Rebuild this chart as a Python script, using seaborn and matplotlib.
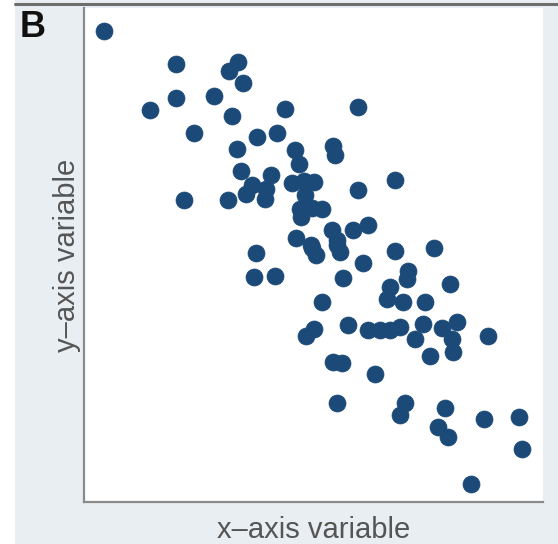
import matplotlib
matplotlib.use("Agg")
import matplotlib.pyplot as plt
import seaborn as sns
import pandas as pd
from matplotlib.lines import Line2D
from matplotlib.patches import Rectangle

# Values (arbitrary units, 0-100 on both axes)
x_values = [4.4, 20.0, 33.5, 31.6, 34.6, 20.0, 28.3, 14.4, 32.2, 43.8,
            59.7, 23.9, 37.7, 42.0, 33.3, 46.0, 46.8, 54.2, 54.7, 34.2,
            40.7, 39.7, 39.4, 36.6, 35.3, 21.8, 31.4, 45.3, 47.9, 50.1,
            48.1, 47.1, 49.7, 51.9, 47.3, 67.8, 59.7, 61.9, 58.6, 54.0,
            55.1, 46.2, 49.7, 55.8, 37.5, 37.0, 41.6, 49.5, 50.5, 55.1,
            56.4, 60.8, 67.8, 76.3, 70.6, 70.4, 66.7, 66.0, 69.5, 74.3,
            79.7, 51.9, 57.5, 61.9, 64.5, 66.7, 68.8, 73.9, 78.0, 81.3,
            72.1, 80.2, 80.4, 75.4, 88.0, 50.1, 48.4, 54.2, 56.2, 63.4,
            55.1, 69.9, 68.8, 78.6, 77.1, 79.3, 87.1, 94.8, 95.4, 84.3]
y_values = [95.3, 88.6, 89.0, 87.2, 84.8, 81.7, 82.2, 79.3, 78.1, 79.5,
            79.9, 74.6, 73.8, 74.6, 71.4, 71.2, 68.4, 72.0, 70.2, 67.1,
            66.1, 63.3, 61.3, 64.1, 62.3, 61.1, 61.1, 64.5, 64.9, 64.7,
            62.1, 59.4, 59.6, 59.4, 57.6, 65.1, 63.1, 56.0, 55.0, 55.0,
            53.0, 53.4, 51.4, 50.6, 50.4, 45.6, 45.8, 52.0, 50.0, 52.0,
            45.4, 48.4, 50.8, 51.4, 46.7, 45.2, 43.6, 41.0, 40.4, 40.4,
            44.2, 40.4, 35.9, 34.9, 34.9, 34.9, 35.5, 36.1, 35.3, 36.5,
            32.9, 32.9, 30.4, 29.6, 33.7, 35.1, 33.7, 28.4, 28.2, 26.0,
            20.1, 20.1, 17.6, 19.1, 15.2, 13.2, 16.8, 17.2, 10.8, 3.7]

df = pd.DataFrame({"x": x_values, "y": y_values})

sns.set_style("white")
plt.rcParams["font.family"] = ["Liberation Sans", "DejaVu Sans"]

fig = plt.figure(figsize=(5.58, 5.44), dpi=100)
fig.patch.set_facecolor("#e8eef2")
# white strip on the left edge and dark rule along the top
fig.add_artist(Rectangle((0, 0), 15 / 558, 1, transform=fig.transFigure,
                         facecolor="white", edgecolor="none", zorder=0))
fig.add_artist(Line2D([15 / 558, 1], [1 - 4 / 544, 1 - 4 / 544],
                      transform=fig.transFigure, color="#6e6e6e", lw=2.2))

ax = fig.add_axes([84 / 558, 1 - 502 / 544, (543 - 84) / 558, (502 - 8) / 544])
ax.set_facecolor("white")
sns.scatterplot(data=df, x="x", y="y", ax=ax, s=150, color="#1c4a78",
                edgecolor="#1c4a78", linewidth=0.5, alpha=1)
ax.set_xlim(0, 100)
ax.set_ylim(0, 100)
ax.set_xticks([])
ax.set_yticks([])
for side in ["top", "right"]:
    ax.spines[side].set_visible(False)
for side in ["left", "bottom"]:
    ax.spines[side].set_color("#8a8a8a")
    ax.spines[side].set_linewidth(1.6)
ax.set_xlabel("x\u2013axis variable", fontsize=21, color="#555555", labelpad=10)
ax.set_ylabel("y\u2013axis variable", fontsize=21, color="#555555", labelpad=2)

fig.text(20 / 558, 1 - 10 / 544, "B", fontsize=26, fontweight="bold",
         ha="left", va="top", color="#111111")

fig.savefig("out.png", dpi=100, facecolor=fig.get_facecolor())
